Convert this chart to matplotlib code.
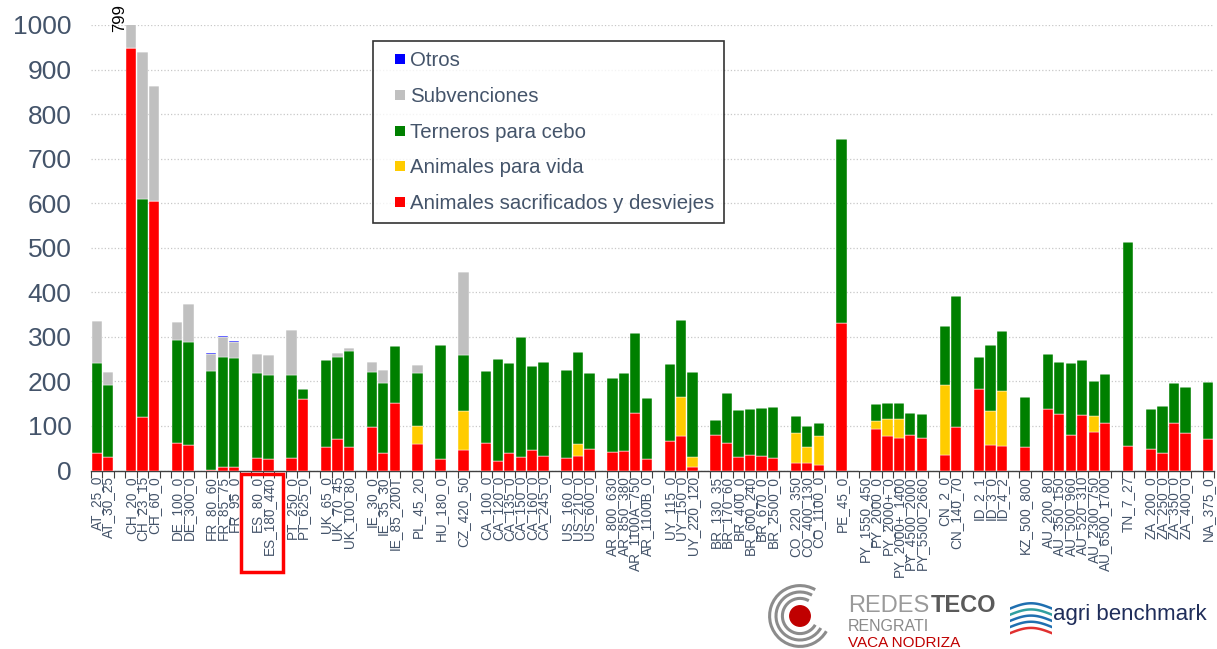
import numpy as np
import matplotlib
matplotlib.use('Agg')
from matplotlib import pyplot as plt
from matplotlib.patches import Rectangle, Circle, Arc
from matplotlib.lines import Line2D

plt.rcParams['font.family'] = ['Liberation Sans', 'DejaVu Sans']

# categories in display order, '' = spacer slot between countries
labels = [
    'AT_25_0', 'AT_30_25', '',
    'CH_20_0', 'CH_23_15', 'CH_60_0', '',
    'DE_100_0', 'DE_300_0', '',
    'FR_80_60', 'FR_85_75', 'FR_95_0', '',
    'ES_80_0', 'ES_180_440', '',
    'PT_250_0', 'PT_625_0', '',
    'UK_65_0', 'UK_70_45', 'UK_100_80', '',
    'IE_30_0', 'IE_35_30', 'IE_85_200T', '',
    'PL_45_20', '',
    'HU_180_0', '',
    'CZ_420_50', '',
    'CA_100_0', 'CA_120_0', 'CA_135_0', 'CA_150_0', 'CA_160_0', 'CA_245_0', '',
    'US_160_0', 'US_210_0', 'US_600_0', '',
    'AR_800_630', 'AR_850_380', 'AR_1100A_750', 'AR_1100B_0', '',
    'UY_115_0', 'UY_150_0', 'UY_220_120', '',
    'BR_130_35', 'BR_170_60', 'BR_400_0', 'BR_600_240', 'BR_670_0', 'BR_2500_0', '',
    'CO_220_350', 'CO_400_130', 'CO_1100_0', '',
    'PE_45_0', '',
    'PY_1550_450', 'PY_2000_0', 'PY_2000+_0', 'PY_2000+_1400', 'PY_4500_2000', 'PY_5500_2660', '',
    'CN_2_0', 'CN_140_70', '',
    'ID_2_1', 'ID_3_0', 'ID_4_2', '',
    'KZ_500_800', '',
    'AU_200_80', 'AU_350_150', 'AU_500_960', 'AU_520_310', 'AU_2300_750', 'AU_6500_1700', '',
    'TN_7_27', '',
    'ZA_200_0', 'ZA_250_0', 'ZA_350_0', 'ZA_400_0', '',
    'NA_375_0',
]

# values per farm (same order as labels without the spacers)
# rows: AT..UK / IE..US / AR..CO / PE..KZ / AU..NA
sacrificados = [40, 30, 948, 119, 605, 62, 57, 2, 8, 7, 28, 25, 27, 160, 53, 71, 52,
                98, 39, 151, 60, 25, 45, 61, 21, 39, 31, 45, 32, 29, 33, 48,
                41, 44, 129, 25, 67, 77, 7, 80, 61, 30, 35, 32, 29, 17, 17, 13,
                330, 0, 94, 78, 74, 79, 72, 34, 98, 184, 58, 56, 53,
                139, 127, 79, 125, 86, 106, 56, 49, 39, 106, 84, 71]
vida = [0, 0, 0, 0, 0, 0, 0, 0, 0, 0, 0, 0, 0, 0, 0, 0, 0,
        0, 0, 0, 41, 0, 89, 0, 0, 0, 0, 0, 0, 0, 26, 0,
        0, 0, 0, 0, 0, 89, 23, 0, 0, 0, 0, 0, 0, 67, 36, 64,
        0, 0, 17, 37, 41, 1, 2, 157, 0, 0, 76, 123, 0,
        0, 0, 0, 0, 36, 0, 0, 0, 0, 0, 0, 0]
terneros = [201, 162, 0, 490, 0, 232, 231, 222, 247, 245, 191, 189, 188, 22, 196, 184, 216,
            122, 157, 129, 118, 257, 125, 162, 230, 203, 269, 189, 211, 197, 206, 171,
            166, 174, 179, 137, 172, 172, 192, 33, 112, 106, 102, 108, 113, 39, 47, 30,
            414, 0, 38, 36, 36, 48, 53, 133, 294, 70, 148, 134, 112,
            122, 116, 162, 122, 78, 110, 458, 88, 105, 90, 103, 128]
subvenciones = [95, 28, 100, 330, 258, 40, 86, 37, 44, 36, 43, 45, 100, 0, 0, 9, 8,
                24, 30, 0, 17, 0, 186, 0, 0, 0, 0, 0, 0, 0, 0, 0,
                0, 0, 0, 0, 0, 0, 0, 0, 0, 0, 0, 0, 0, 0, 0, 0,
                0, 0, 0, 0, 0, 0, 0, 0, 0, 0, 0, 0, 0,
                0, 0, 0, 0, 0, 0, 0, 0, 0, 0, 0, 0]
otros = [0, 0, 0, 0, 0, 0, 0, 2, 4, 3, 0, 0, 0, 0, 0, 0, 0,
         0, 0, 0, 0, 0, 0, 0, 0, 0, 0, 0, 0, 0, 0, 0,
         0, 0, 0, 0, 0, 0, 0, 0, 0, 0, 0, 0, 0, 0, 0, 0,
         0, 0, 0, 0, 0, 0, 0, 0, 0, 0, 0, 0, 0,
         0, 0, 0, 0, 0, 0, 0, 0, 0, 0, 0, 0]

series = [
    ('Animales sacrificados y desviejes', sacrificados, '#ff0000'),
    ('Animales para vida', vida, '#ffcc00'),
    ('Terneros para cebo', terneros, '#008000'),
    ('Subvenciones', subvenciones, '#c0c0c0'),
    ('Otros', otros, '#0000ff'),
]

txt = '#44546a'

fig = plt.figure(figsize=(12.17, 6.49), dpi=100)
ax = fig.add_axes([91 / 1217, 1 - 470.5 / 649, 1123 / 1217, 445.5 / 649])

x_all = np.arange(len(labels))
x_bar = np.array([i for i, l in enumerate(labels) if l != ''])

bottom = np.zeros(len(x_bar))
colors = {}
for name, vals, col in series:
    vals = np.array(vals, dtype=float)
    ax.bar(x_bar, vals, bottom=bottom, width=0.9, color=col,
           edgecolor='white', linewidth=0.3, zorder=3, label=name)
    colors[name] = col
    bottom += vals

ax.text(2.0, 1015, '799', rotation=90, ha='center', va='center',
        fontsize=12, color='black', clip_on=False)

ax.set_xlim(-0.5, len(labels) - 0.5)
ax.set_ylim(0, 1000)
ax.set_yticks(np.arange(0, 1001, 100))
ax.tick_params(axis='y', length=0, labelsize=19, labelcolor=txt, pad=14)
ax.yaxis.grid(True, linestyle=':', color='#c8c8c8', linewidth=0.9, zorder=0)
ax.set_axisbelow(True)

ax.set_xticks(x_all)
ax.set_xticklabels(labels, rotation=90, fontsize=9.8, color=txt)
ax.tick_params(axis='x', which='major', length=0, pad=4)
ax.set_xticks(np.arange(-0.5, len(labels), 1), minor=True)
ax.tick_params(axis='x', which='minor', length=5, color='#404040', width=0.8)

for s in ['top', 'right', 'left']:
    ax.spines[s].set_visible(False)
ax.spines['bottom'].set_color('#404040')
ax.spines['bottom'].set_linewidth(1)

order = ['Otros', 'Subvenciones', 'Terneros para cebo', 'Animales para vida',
         'Animales sacrificados y desviejes']
hnd = [Line2D([], [], marker='s', linestyle='None', markersize=7.4,
              markerfacecolor=colors[n], markeredgewidth=0) for n in order]
leg = ax.legend(hnd, order,
                loc='upper left', bbox_to_anchor=((373 - 91) / 1123, (470.5 - 41) / 445.5),
                borderaxespad=0, fontsize=14.7, frameon=True, fancybox=False,
                handlelength=1.6, handletextpad=-0.3,
                labelspacing=0.82, borderpad=0.5, labelcolor=txt)
leg.get_frame().set_edgecolor('black')
leg.get_frame().set_linewidth(1.2)

# red box around the ES labels
fig.patches.append(Rectangle((241 / 1217, 1 - 572 / 649), 42 / 1217, 98 / 649,
                             transform=fig.transFigure, fill=False,
                             edgecolor='#ff0000', linewidth=2.5))

# logos
def fx(px):
    return px / 1217

def fy(py):
    return 1 - py / 649

lax = fig.add_axes([fx(768), fy(648), fx(64), 64 / 649])
lax.set_xlim(-1, 1)
lax.set_ylim(-1, 1)
lax.set_aspect('equal')
lax.axis('off')
for r in [0.95, 0.75, 0.55]:
    lax.add_patch(Arc((0, 0), 2 * r, 2 * r, theta1=60, theta2=330,
                      color='#8c8c8c', linewidth=2.2))
lax.add_patch(Circle((0, 0), 0.32, color='#c00000'))

t1 = fig.text(fx(848), fy(612), 'REDES', fontsize=17, color='#9a9a9a', ha='left',
              va='baseline')
fig.canvas.draw()
bb = t1.get_window_extent()
fig.text(bb.x1 / 1217 + 0.001, fy(612), 'TECO', fontsize=17, color='#5a5a5a', ha='left',
         va='baseline', fontweight='bold')
fig.text(fx(848), fy(631), 'RENGRATI', fontsize=11.5, color='#8a8a8a', ha='left',
         va='baseline')
fig.text(fx(848), fy(647), 'VACA NODRIZA', fontsize=11, color='#c00000', ha='left',
         va='baseline')

wax = fig.add_axes([fx(1010), fy(642), fx(42), 44 / 649])
wax.set_xlim(0, 1)
wax.set_ylim(0, 1)
wax.axis('off')
t = np.linspace(0, 1, 50)
for k, c in enumerate(['#e03030', '#1f6fb0', '#1f6fb0', '#30a0a0', '#1f6fb0']):
    wax.plot(t, 0.2 + 0.14 * k + 0.12 * np.sin(np.pi * t), color=c, linewidth=1.8)

fig.text(fx(1053), fy(620), 'agri benchmark', fontsize=16, color='#1f2d5a', ha='left',
         va='baseline')

fig.savefig('out.png', dpi=100)
